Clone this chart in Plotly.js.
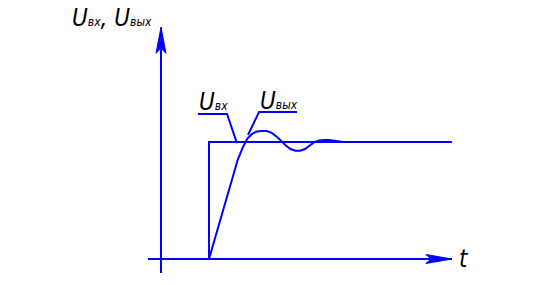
<!DOCTYPE html>
<html><head><meta charset="utf-8">
<script src="https://cdn.plot.ly/plotly-3.0.1.min.js"></script>
<style>html,body{margin:0;padding:0;background:#fff}</style>
</head><body><div id="chart" style="width:556px;height:285px"></div>
<script>
// --- data (t in units of step delay, U normalised to steady state) ---
const tStep = [0, 1, 1, 6.06];
const uStep = [0, 0, 1, 1];
const tOut = [1.0, 1.1, 1.2, 1.3, 1.4, 1.5, 1.6, 1.7, 1.8, 1.9, 2.0, 2.1, 2.2, 2.3, 2.4, 2.5, 2.6, 2.7, 2.8, 2.9, 3.0, 3.1, 3.2, 3.3, 3.4, 3.5, 3.6, 3.7, 3.8];
const uOut = [0, 0.14, 0.29, 0.44, 0.58, 0.72, 0.85, 0.95, 1.03, 1.07, 1.09, 1.095, 1.094, 1.08, 1.05, 1.01, 0.97, 0.94, 0.925, 0.925, 0.94, 0.97, 1.0, 1.012, 1.018, 1.017, 1.01, 1.002, 1.0];
const tAxisX = [-0.27, 6.06];
const uAxisY = [-0.12, 1.98];
const tLeadIn = [0.771, 1.375, 1.583];
const uLeadIn = [1.239, 1.239, 0.991];
const tLeadOut = [1.8125, 2.042, 2.833];
const uLeadOut = [1.06, 1.256, 1.256];
const axisLabelY = ['вх', 'вых'];
const axisLabelX = 't';

// --- pixel mapping helpers (layout only) ---
const X0 = 161, Y0 = 259, SX = 48, SY = 117;
const px2t = x => (x - X0) / SX;
const px2u = y => (Y0 - y) / SY;

const blue = '#0000ff';
const line = (x, y, w) => ({x, y, mode: 'lines', line: {color: blue, width: w || 2}, hoverinfo: 'skip', type: 'scatter'});

// arrowheads computed from axis ends
const ahLenX = 26 / SX, ahHalfX = 4.5 / SY;
const ahLenY = 26 / SY, ahHalfY = 5 / SX;
const xEnd = tAxisX[1], yEnd = uAxisY[1];
const arrowX = {x: [xEnd, xEnd - ahLenX, xEnd - ahLenX * 0.8, xEnd - ahLenX, xEnd], y: [0, ahHalfX, 0, -ahHalfX, 0], mode: 'lines', fill: 'toself', fillcolor: blue, line: {color: blue, width: 1}, hoverinfo: 'skip', type: 'scatter'};
const arrowY = {x: [0, ahHalfY, 0, -ahHalfY, 0], y: [yEnd, yEnd - ahLenY, yEnd - ahLenY * 0.8, yEnd - ahLenY, yEnd], mode: 'lines', fill: 'toself', fillcolor: blue, line: {color: blue, width: 1}, hoverinfo: 'skip', type: 'scatter'};

const traces = [
  line(tAxisX, [0, 0]),
  line([0, 0], uAxisY),
  line(tStep, uStep),
  line(tOut, uOut),
  line(tLeadIn, uLeadIn),
  line(tLeadOut, uLeadOut),
  arrowX, arrowY
];

const fam = '"Liberation Sans Narrow", "DejaVu Sans Condensed", "Liberation Sans", sans-serif';
const U = sub => '<i>U<span style="font-size:12px">' + sub + '</span></i>';
const ann = (text, x, y, size) => ({text, x: px2t(x), y: px2u(y), xref: 'x', yref: 'y', xanchor: 'left', yanchor: 'bottom', showarrow: false, font: {family: fam, size: size || 24, color: '#000'}, borderpad: 0});

const layout = {
  width: 556, height: 285,
  margin: {l: 0, r: 0, t: 0, b: 0},
  paper_bgcolor: '#fff', plot_bgcolor: '#fff',
  showlegend: false,
  xaxis: {range: [px2t(0), px2t(556)], visible: false, fixedrange: true},
  yaxis: {range: [px2u(285), px2u(0)], visible: false, fixedrange: true},
  annotations: [
    ann(U(axisLabelY[0]) + '<i>,</i> ' + U(axisLabelY[1]), 71, 33),
    ann(U(axisLabelY[0]), 198, 117),
    ann(U(axisLabelY[1]), 259, 116),
    ann('<i>' + axisLabelX + '</i>', 458, 274)
  ]
};
Plotly.newPlot('chart', traces, layout, {displayModeBar: false, staticPlot: true});
</script></body></html>
